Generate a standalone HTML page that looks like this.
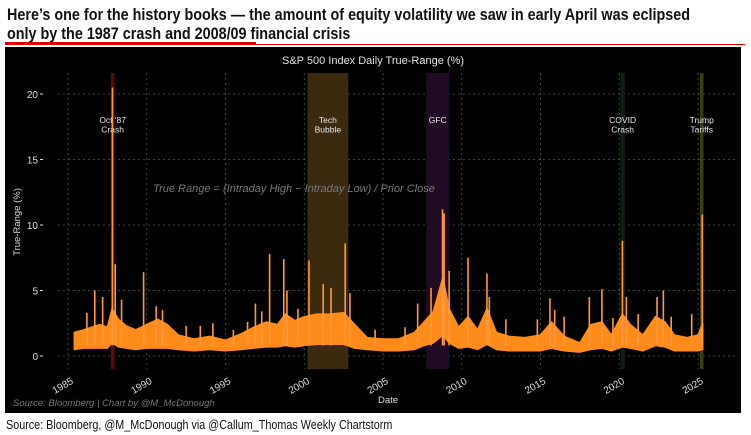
<!DOCTYPE html>
<html><head><meta charset="utf-8"><style>
body{margin:0;background:#fff;width:751px;height:435px;overflow:hidden;font-family:"Liberation Sans",sans-serif}
#title{position:absolute;left:7px;top:5px;font-family:"Liberation Sans",sans-serif;font-weight:bold;font-size:17px;line-height:19px;color:#111;white-space:nowrap;transform:scaleX(0.845);transform-origin:0 0}
#src{position:absolute;left:6px;top:417px;font-family:"Liberation Sans",sans-serif;font-size:13px;color:#111;white-space:nowrap;transform:scaleX(0.83);transform-origin:0 0}
svg{position:absolute;left:0;top:0}
</style></head><body>
<div id="title">Here’s one for the history books — the amount of equity volatility we saw in early April was eclipsed<br>only by the 1987 crash and 2008/09 financial crisis</div>
<svg width="751" height="435" id="chart">
<rect x="5" y="42" width="251" height="3" fill="#e00000"/>
<rect x="5" y="44" width="740" height="1" fill="#e00000"/>
<rect x="5" y="47" width="736" height="366" fill="#000"/>
<g id="g"></g>
</svg>
<div id="src">Source: Bloomberg, @M_McDonough via @Callum_Thomas Weekly Chartstorm</div>
<script>
const years=[1985.4,1986,1986.5,1987,1987.5,1987.8,1988.2,1988.7,1989.3,1990,1990.7,1991.3,1992,1993,1994,1995,1996,1996.8,1997.6,1998.3,1998.8,1999.4,2000,2000.8,2001.6,2002.5,2003.2,2004,2005,2006,2007,2007.6,2008.2,2008.8,2009.2,2009.8,2010.4,2011,2011.6,2012.2,2013,2014,2015,2015.7,2016.5,2017.5,2018.2,2018.9,2019.5,2020.2,2020.7,2021.5,2022.3,2022.9,2023.5,2024.3,2025,2025.3];
const highs=[1.8,2.0,2.2,2.4,2.2,3.6,2.8,2.3,2.0,2.4,2.8,2.4,1.6,1.3,1.5,1.2,1.7,2.2,2.6,2.4,3.2,2.7,3.0,3.2,3.2,3.3,2.4,1.4,1.3,1.3,1.8,2.6,3.4,6.0,3.6,2.2,3.0,2.0,3.6,1.8,1.5,1.4,1.6,2.6,1.5,1.0,2.4,2.6,1.6,3.2,2.4,1.6,3.0,2.6,1.6,1.4,1.6,2.5];
const lows=[0.5,0.6,0.6,0.6,0.6,1.0,0.7,0.6,0.5,0.6,0.6,0.6,0.5,0.4,0.5,0.4,0.5,0.6,0.7,0.7,0.8,0.7,0.8,0.9,0.9,0.9,0.6,0.5,0.4,0.4,0.5,0.8,1.0,1.6,1.0,0.6,0.7,0.5,0.9,0.5,0.4,0.4,0.4,0.6,0.4,0.3,0.5,0.6,0.4,0.7,0.6,0.4,0.8,0.7,0.4,0.4,0.4,0.5];
const spikeYears=[1986.2,1986.7,1987.2,1987.82,1988.0,1988.4,1989.8,1990.6,1991.0,1992.5,1993.4,1994.2,1995.5,1996.4,1996.9,1997.3,1997.8,1998.7,1998.9,1999.6,2000.3,2001.2,2001.7,2002.6,2002.9,2004.5,2006.4,2007.2,2008.05,2008.78,2008.88,2009.2,2010.4,2011.6,2011.75,2012.8,2014.8,2015.6,2015.9,2016.5,2018.1,2018.9,2019.6,2020.2,2020.45,2021.2,2022.4,2022.8,2023.3,2024.6,2025.27];
const spikeVals=[3.3,5.0,4.5,20.5,7.0,4.3,6.4,3.8,3.5,2.3,2.3,2.5,2.0,2.6,4.0,3.4,7.8,7.4,5.0,3.6,7.3,5.5,5.2,8.6,4.8,2.0,2.2,4.0,5.2,11.2,10.9,6.5,7.5,6.3,4.5,2.8,2.8,4.4,3.5,3.0,4.5,5.1,2.9,8.8,4.5,3.2,4.5,5.0,3.0,3.2,10.8];
const yTicks=[0,5,10,15,20];
const xTicks=[1985,1990,1995,2000,2005,2010,2015,2020,2025];
const bandStarts=[1987.72,2000.2,2007.75,2020.08,2025.12];
const bandEnds=[1987.95,2002.8,2009.2,2020.35,2025.35];
const bandLabels=[["Oct '87","Crash"],["Tech","Bubble"],["GFC"],["COVID","Crash"],["Trump","Tariffs"]];
const bandColors=["#5a0c0c","#3b2a0e","#1f0c24","#0f220f","#3c3c12"];

const X=y=>68+(y-1985)*15.75;
const Y=v=>356-v*13.1;
const g=document.getElementById('g');
const NS='http://www.w3.org/2000/svg';
function mk(t,a,p){const e=document.createElementNS(NS,t);for(const k in a)e.setAttribute(k,a[k]);(p||g).appendChild(e);return e;}

yTicks.forEach(v=>{const l=mk('line',{x1:58,x2:735,y1:Y(v),y2:Y(v),stroke:'#555','stroke-dasharray':'2,3','stroke-width':0.8});

const t=mk('text',{x:38,y:Y(v)+4,fill:'#ddd','font-size':10,'text-anchor':'end'});t.textContent=v;

const tk=mk('line',{x1:40,x2:43,y1:Y(v),y2:Y(v),stroke:'#ddd'});});
xTicks.forEach(v=>{const l=mk('line',{x1:X(v),x2:X(v),y1:73,y2:369,stroke:'#555','stroke-dasharray':'2,3','stroke-width':0.8});

const t=mk('text',{x:X(v)+6,y:383,fill:'#ddd','font-size':10,'text-anchor':'end',transform:`rotate(-30 ${X(v)+6} 383)`});t.textContent=v;
});
bandStarts.forEach((s,i)=>{const r=mk('rect',{x:X(s),y:73,width:Math.max(2,X(bandEnds[i])-X(s)),height:296,fill:bandColors[i]});

const cx=(X(s)+X(bandEnds[i]))/2;bandLabels[i].forEach((ln,j)=>{const t=mk('text',{x:cx,y:123+j*9.5,fill:'#e8e8e8','font-size':8.5,'text-anchor':'middle'});t.textContent=ln;
});});
let pts=years.map((y,i)=>X(y)+','+Y(highs[i]));
for(let i=years.length-1;i>=0;i--)pts.push(X(years[i])+','+Y(lows[i]));
const a=mk('polygon',{points:pts.join(' '),fill:'#ff8c1a',stroke:'#ff8c1a','stroke-width':1.5,'stroke-linejoin':'round'});

spikeYears.forEach((y,i)=>{const l=mk('line',{x1:X(y),x2:X(y),y1:Y(0.8),y2:Y(spikeVals[i]),stroke:'#ff9a3a','stroke-width':1.6});
});
const tt=mk('text',{x:373,y:64,fill:'#e0e0e0','font-size':11,'text-anchor':'middle'});tt.textContent='S&P 500 Index Daily True-Range (%)';

const fm=mk('text',{x:294,y:192,fill:'#777','font-size':11,'font-style':'italic','text-anchor':'middle'});fm.textContent='True Range = (Intraday High − Intraday Low) / Prior Close';

const yl=mk('text',{x:20,y:222,fill:'#ddd','font-size':9.5,'text-anchor':'middle',transform:'rotate(-90 20 222)'});yl.textContent='True-Range (%)';

const xl=mk('text',{x:388,y:403,fill:'#ddd','font-size':9.5,'text-anchor':'middle'});xl.textContent='Date';

const cr=mk('text',{x:13,y:406,fill:'#777','font-size':9.5,'font-style':'italic'});cr.textContent='Source: Bloomberg | Chart by @M_McDonough';

</script>
</body></html>
